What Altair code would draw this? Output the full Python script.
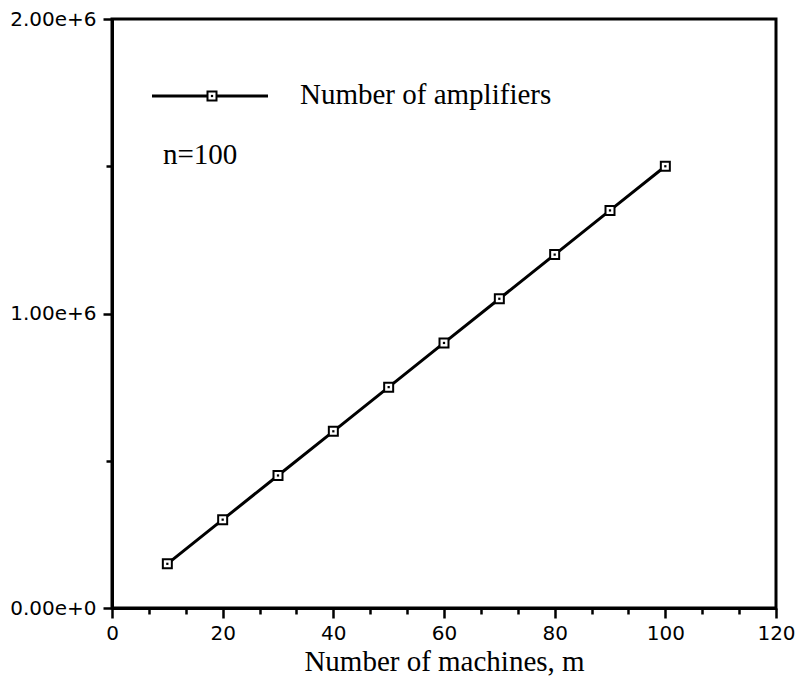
import altair as alt
import pandas as pd

machines = [10, 20, 30, 40, 50, 60, 70, 80, 90, 100]
amplifiers = [150000, 300000, 450000, 600000, 750000, 900000, 1050000, 1200000, 1350000, 1500000]

x_ticks = []
for i in range(6):
    x_ticks += [i * 20, i * 20 + 20 / 3, i * 20 + 40 / 3]
x_ticks.append(120)
y_ticks = [0, 500000, 1000000, 1500000, 2000000]

legend_label = "Number of amplifiers"
note_label = "n=100"

df = pd.DataFrame({"m": machines, "amp": amplifiers})

x_enc = alt.X(
    "m:Q",
    scale=alt.Scale(domain=[0, 120], nice=False, zero=False),
    axis=alt.Axis(
        values=x_ticks,
        labelExpr="abs(datum.value - round(datum.value/20)*20) < 0.01 ? format(datum.value, 'd') : ''",
        tickSize={"condition": {"test": "abs(datum.value - round(datum.value/20)*20) < 0.01", "value": 10}, "value": 6},
        tickWidth=2.5,
        tickColor="black",
        domainColor="black",
        domainWidth=3,
        grid=False,
        labelFont="DejaVu Sans",
        labelFontSize=20,
        labelColor="black",
        labelPadding=5,
        title="Number of machines, m",
        titleFont="Liberation Serif",
        titleFontSize=29,
        titleFontWeight="normal",
        titleColor="black",
        titlePadding=4,
        labelFlush=False,
        labelOverlap=False,
    ),
)
y_enc = alt.Y(
    "amp:Q",
    scale=alt.Scale(domain=[0, 2000000], nice=False),
    axis=alt.Axis(
        values=y_ticks,
        labelExpr="datum.value % 1000000 == 0 ? format(datum.value, '.2e') : ''",
        tickSize={"condition": {"test": "datum.value % 1000000 == 0", "value": 9}, "value": 6},
        tickWidth=2.5,
        tickColor="black",
        domainColor="black",
        domainWidth=3,
        grid=False,
        labelFont="DejaVu Sans",
        labelFontSize=20,
        labelColor="black",
        labelPadding=7,
        title=None,
        labelFlush=False,
        labelOverlap=False,
    ),
)

base = alt.Chart(df).encode(x=x_enc, y=y_enc)
line = base.mark_line(color="black", strokeWidth=3)
pts = base.mark_point(shape="square", size=81, filled=True, fill="white", stroke="black", strokeWidth=2, opacity=1)
dots = base.mark_point(shape="square", size=5, filled=True, color="black", opacity=1)

leg_df = pd.DataFrame({"label": [legend_label]})
leg_line = alt.Chart(leg_df).mark_rule(color="black", strokeWidth=3).encode(
    x=alt.value(40), x2=alt.value(156), y=alt.value(77)
)
leg_pt = alt.Chart(leg_df).mark_point(shape="square", size=81, filled=True, fill="white", stroke="black", strokeWidth=2, opacity=1).encode(
    x=alt.value(100), y=alt.value(77)
)
leg_dot = alt.Chart(leg_df).mark_point(shape="square", size=5, filled=True, color="black", opacity=1).encode(
    x=alt.value(100), y=alt.value(77)
)
leg_text = alt.Chart(leg_df).mark_text(
    align="left", baseline="alphabetic", font="Liberation Serif", fontSize=29, color="black"
).encode(x=alt.value(188), y=alt.value(85), text="label:N")

note_df = pd.DataFrame({"label": [note_label]})
note_text = alt.Chart(note_df).mark_text(
    align="left", baseline="alphabetic", font="Liberation Serif", fontSize=29, color="black"
).encode(x=alt.value(51), y=alt.value(145), text="label:N")

chart = alt.layer(line, pts, dots, leg_line, leg_pt, leg_dot, leg_text, note_text).properties(
    width=664,
    height=589,
    autosize=alt.AutoSizeParams(type="none"),
    padding={"left": 104, "top": 11, "right": 20, "bottom": 74},
    background="white",
).configure_view(stroke="black", strokeWidth=3)

chart.save("out.html", embed_options={"renderer": "svg", "actions": False})
